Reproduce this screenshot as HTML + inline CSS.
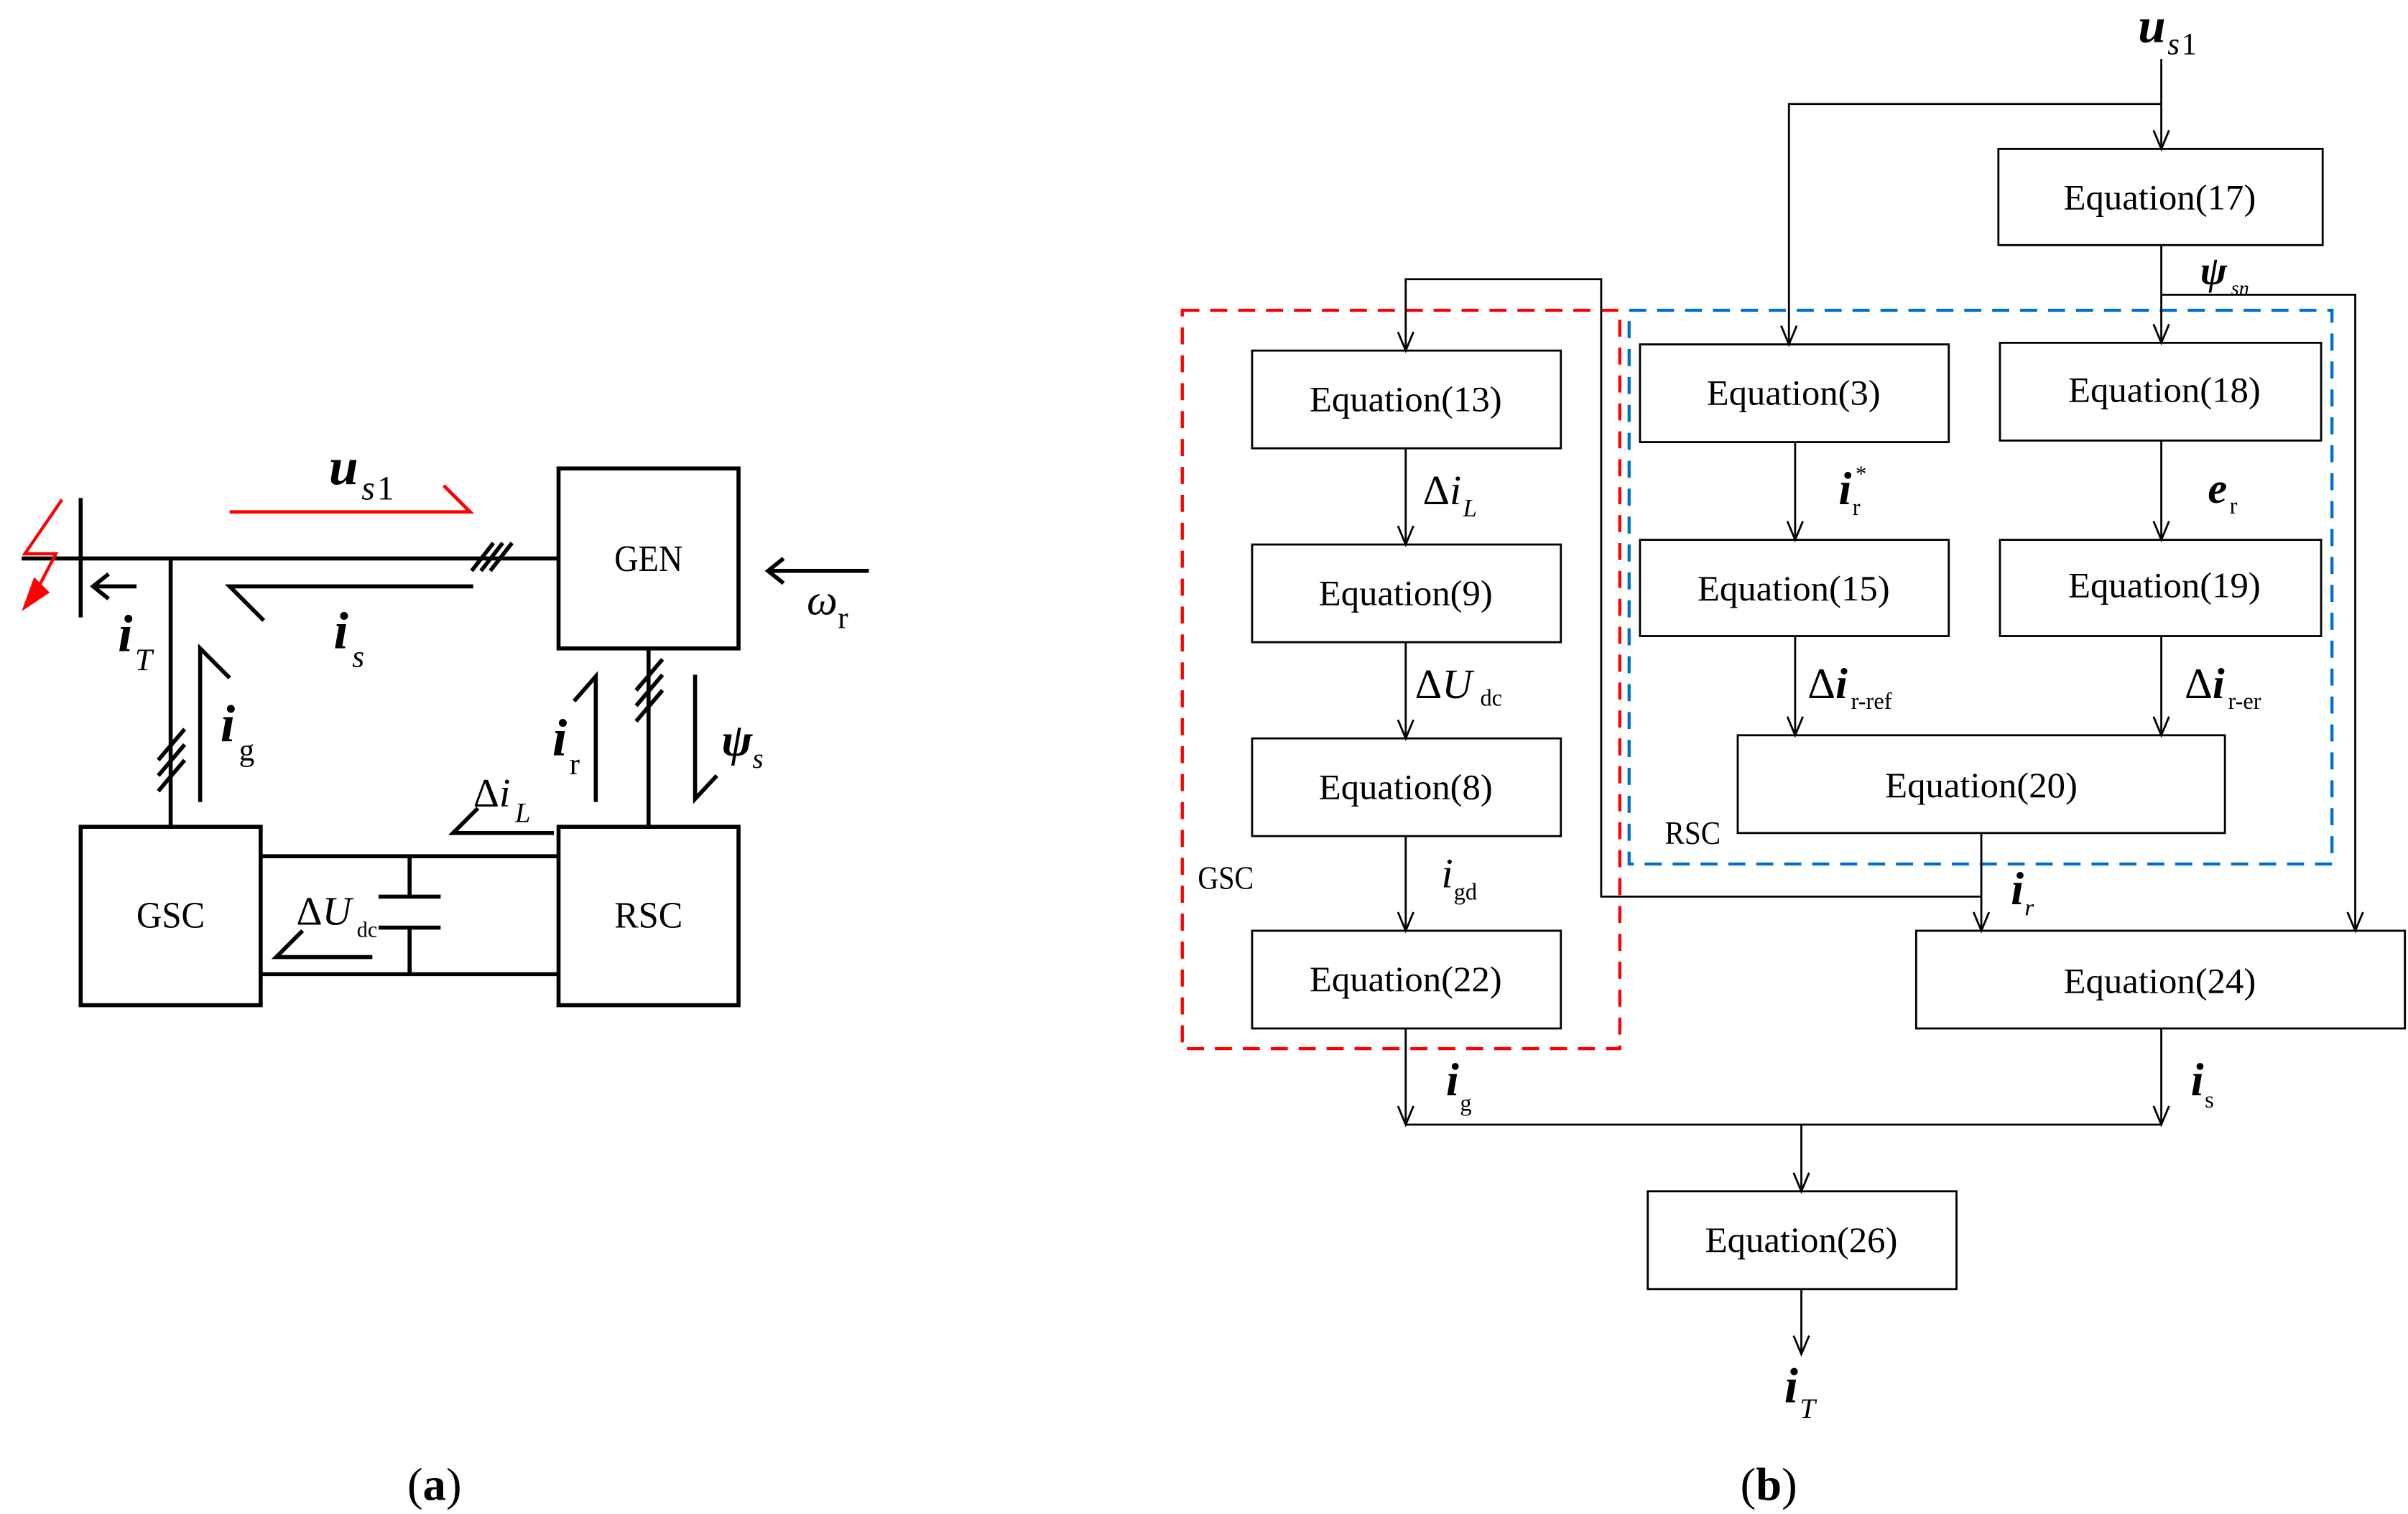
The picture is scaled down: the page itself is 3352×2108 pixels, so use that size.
<!DOCTYPE html>
<html><head><meta charset="utf-8"><style>
html,body{margin:0;padding:0;background:#fff;}
svg{display:block;}
text{font-family:"Liberation Serif",serif;fill:#000;}
.eq{font-size:23px;}
.b{font-weight:bold;font-style:italic;}
.it{font-style:italic;}
</style></head><body>
<svg width="3352" height="2108" viewBox="0 0 1552 976" xmlns="http://www.w3.org/2000/svg">
<rect width="1552" height="976" fill="#fff"/>
<!-- ===== (a) ===== -->
<g stroke="#000" stroke-width="2.6" fill="none">
<line x1="14" y1="360" x2="360" y2="360"/>
<line x1="52" y1="321" x2="52" y2="398"/>
<rect x="360" y="302" width="116" height="116"/>
<rect x="52" y="533" width="116" height="115"/>
<rect x="360" y="533" width="116" height="115"/>
<path d="M304 368 L318 350 M310 368 L324 350 M316 368 L330 350"/>
<line x1="110" y1="360" x2="110" y2="533"/>
<path d="M102 490 L119 470 M102 500 L119 480 M102 510 L119 490"/>
<line x1="418" y1="418" x2="418" y2="533"/>
<path d="M410 445 L427 425 M410 455 L427 435 M410 465 L427 445"/>
<path d="M305 378 L148 378 L170 400"/>
<path d="M88 378 L60 378 M70 370 L60 378 L70 386"/>
<path d="M129 517 L129 418 L148 437"/>
<line x1="168" y1="552" x2="360" y2="552"/>
<line x1="168" y1="628" x2="360" y2="628"/>
<path d="M264 552 L264 578 M244 578 L284 578 M244 598 L284 598 M264 598 L264 628"/>
<path d="M240 617 L178 617 L195 600"/>
<path d="M357 537 L292 537 L308 521"/>
<path d="M384 517 L384 436 L370 452"/>
<path d="M448 435 L448 515 L462 500"/>
<path d="M560 368 L495 368 M505 360 L495 368 L505 376"/>
</g>
<path d="M148 330 L303 330 L286 313" stroke="#f00" stroke-width="2.2" fill="none"/>
<path d="M40 322 L16 357 L36 357 L24 380" stroke="#f00" stroke-width="2" fill="none"/>
<polygon points="14,394 22,372 32,382" fill="#f00"/>
<text x="212" y="312" font-size="34" class="b">u</text><text x="233" y="322" font-size="22" class="it">s</text><text x="243" y="322" font-size="22">1</text>
<text x="215" y="418" font-size="34" class="b">i</text><text x="227" y="430" font-size="20" class="it">s</text>
<text x="76" y="420" font-size="34" class="b">i</text><text x="87" y="432" font-size="20" class="it">T</text>
<text x="142" y="478" font-size="34" class="b">i</text><text x="154" y="490" font-size="20">g</text>
<text x="356" y="487" font-size="34" class="b">i</text><text x="367" y="499" font-size="20">r</text>
<text x="465" y="487" font-size="30" class="b">ψ</text><text x="485" y="495" font-size="18" class="it">s</text>
<text x="520" y="396" font-size="28" class="it">ω</text><text x="540" y="405" font-size="20">r</text>
<text x="305" y="520" font-size="26">Δ<tspan class="it">i</tspan></text><text x="332" y="530" font-size="18" class="it">L</text>
<text x="191" y="596" font-size="26">Δ<tspan class="it">U</tspan></text><text x="230" y="604" font-size="14">dc</text>
<text x="418" y="368" font-size="24" text-anchor="middle" textLength="44" lengthAdjust="spacingAndGlyphs">GEN</text>
<text x="110" y="598" font-size="24" text-anchor="middle" textLength="44" lengthAdjust="spacingAndGlyphs">GSC</text>
<text x="418" y="598" font-size="24" text-anchor="middle" textLength="44" lengthAdjust="spacingAndGlyphs">RSC</text>
<text x="280" y="967" font-size="30" text-anchor="middle">(<tspan font-weight="bold">a</tspan>)</text>

<!-- ===== (b) ===== -->
<rect x="762" y="200" width="282" height="476" fill="none" stroke="#f00" stroke-width="2" stroke-dasharray="11,7"/>
<rect x="1050" y="200" width="453" height="357" fill="none" stroke="#0070d0" stroke-width="2" stroke-dasharray="11,7"/>
<g stroke="#000" stroke-width="1.3" fill="none">
<rect x="1288" y="96" width="209" height="62"/>
<rect x="807" y="226" width="199" height="63"/>
<rect x="807" y="351" width="199" height="63"/>
<rect x="807" y="476" width="199" height="63"/>
<rect x="807" y="600" width="199" height="63"/>
<rect x="1057" y="222" width="199" height="63"/>
<rect x="1289" y="221" width="207" height="63"/>
<rect x="1057" y="348" width="199" height="62"/>
<rect x="1289" y="348" width="207" height="62"/>
<rect x="1120" y="474" width="314" height="63"/>
<rect x="1235" y="600" width="315" height="63"/>
<rect x="1062" y="768" width="199" height="63"/>
<!-- connectors -->
<path d="M1393 38 L1393 96 M1393 67 L1153 67 L1153 222"/>
<path d="M1393 158 L1393 221 M1393 190 L1518 190 L1518 600"/>
<path d="M1277 537 L1277 600 M1277 578 L1032 578 L1032 180 L906 180 L906 226"/>
<path d="M906 289 L906 351 M906 414 L906 476 M906 539 L906 600"/>
<path d="M1157 285 L1157 348 M1393 284 L1393 348 M1157 410 L1157 474 M1393 410 L1393 474"/>
<path d="M906 663 L906 725 M1393 663 L1393 725 M906 725 L1393 725 M1161 725 L1161 768 M1161 831 L1161 873"/>
<!-- arrowheads -->
<path d="M1388 84 L1393 96 L1398 84 M1148 210 L1153 222 L1158 210 M1388 209 L1393 221 L1398 209 M1513 588 L1518 600 L1523 588 M1272 588 L1277 600 L1282 588 M901 214 L906 226 L911 214"/>
<path d="M901 339 L906 351 L911 339 M901 464 L906 476 L911 464 M901 588 L906 600 L911 588"/>
<path d="M1152 336 L1157 348 L1162 336 M1388 336 L1393 348 L1398 336 M1152 462 L1157 474 L1162 462 M1388 462 L1393 474 L1398 462"/>
<path d="M901 713 L906 725 L911 713 M1388 713 L1393 725 L1398 713 M1156 756 L1161 768 L1166 756 M1156 861 L1161 873 L1166 861"/>
</g>
<g class="eq" text-anchor="middle">
<text x="1392" y="135" textLength="124" lengthAdjust="spacingAndGlyphs">Equation(17)</text>
<text x="906" y="265" textLength="124" lengthAdjust="spacingAndGlyphs">Equation(13)</text>
<text x="906" y="390" textLength="112" lengthAdjust="spacingAndGlyphs">Equation(9)</text>
<text x="906" y="515" textLength="112" lengthAdjust="spacingAndGlyphs">Equation(8)</text>
<text x="906" y="639" textLength="124" lengthAdjust="spacingAndGlyphs">Equation(22)</text>
<text x="1156" y="261" textLength="112" lengthAdjust="spacingAndGlyphs">Equation(3)</text>
<text x="1395" y="259" textLength="124" lengthAdjust="spacingAndGlyphs">Equation(18)</text>
<text x="1156" y="387" textLength="124" lengthAdjust="spacingAndGlyphs">Equation(15)</text>
<text x="1395" y="385" textLength="124" lengthAdjust="spacingAndGlyphs">Equation(19)</text>
<text x="1277" y="514" textLength="124" lengthAdjust="spacingAndGlyphs">Equation(20)</text>
<text x="1392" y="640" textLength="124" lengthAdjust="spacingAndGlyphs">Equation(24)</text>
<text x="1161" y="807" textLength="124" lengthAdjust="spacingAndGlyphs">Equation(26)</text>
</g>
<text x="772" y="573" font-size="21" textLength="36" lengthAdjust="spacingAndGlyphs">GSC</text>
<text x="1073" y="544" font-size="21" textLength="36" lengthAdjust="spacingAndGlyphs">RSC</text>
<text x="1378" y="27" font-size="32" class="b">u</text><text x="1397" y="35" font-size="20" class="it">s</text><text x="1406" y="35" font-size="20">1</text>
<text x="1418" y="183" font-size="26" class="b">ψ</text><text x="1438" y="190" font-size="13" class="it">sn</text>
<text x="917" y="325" font-size="27">Δ<tspan class="it">i</tspan></text><text x="943" y="333" font-size="16" class="it">L</text>
<text x="912" y="450" font-size="27">Δ<tspan class="it">U</tspan></text><text x="954" y="455" font-size="15">dc</text>
<text x="929" y="572" font-size="27" class="it">i</text><text x="937" y="580" font-size="15">gd</text>
<text x="1185" y="325" font-size="30" class="b">i</text><text x="1194" y="332" font-size="15">r</text><text x="1196" y="310" font-size="14">*</text>
<text x="1423" y="324" font-size="28" class="b">e</text><text x="1437" y="331" font-size="15">r</text>
<text x="1165" y="450" font-size="28">Δ<tspan class="b">i</tspan></text><text x="1193" y="457" font-size="15">r-ref</text>
<text x="1408" y="450" font-size="28">Δ<tspan class="b">i</tspan></text><text x="1436" y="457" font-size="15">r-er</text>
<text x="1296" y="583" font-size="30" class="b">i</text><text x="1305" y="590" font-size="15" class="it">r</text>
<text x="932" y="706" font-size="30" class="b">i</text><text x="941" y="716" font-size="15">g</text>
<text x="1412" y="706" font-size="30" class="b">i</text><text x="1421" y="714" font-size="15">s</text>
<text x="1150" y="904" font-size="32" class="b">i</text><text x="1160" y="914" font-size="18" class="it">T</text>
<text x="1140" y="967" font-size="30" text-anchor="middle">(<tspan font-weight="bold">b</tspan>)</text>
</svg>
</body></html>
